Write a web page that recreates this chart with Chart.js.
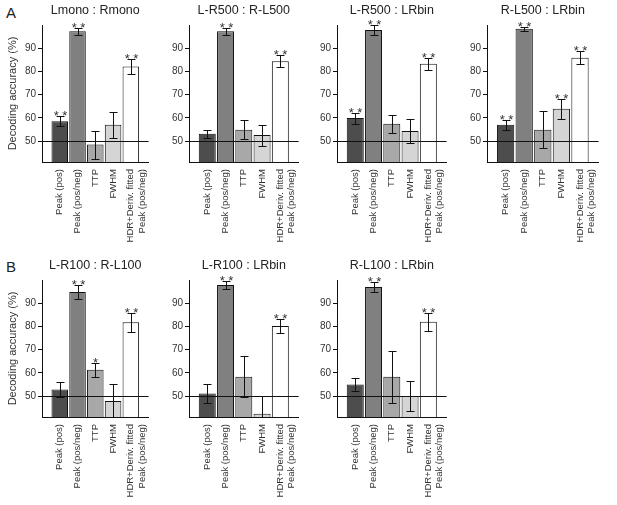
<!DOCTYPE html>
<html>
<head>
<meta charset="utf-8">
<script src="https://cdn.jsdelivr.net/npm/chart.js@4"></script>
<style>
  body { margin: 0; background: #fff; width: 617px; height: 505px; position: relative; overflow: hidden;
         font-family: "Liberation Sans", Arial, sans-serif; }
  canvas { position: absolute; }
  .tag { position: absolute; font-size: 15px; color: #222; }
</style>
</head>
<body>
<div class="tag" style="left:6px;top:4px">A</div>
<div class="tag" style="left:6px;top:258px">B</div>

<script>
// categories + shared bits
const categories = ['Peak (pos)', 'Peak (pos/neg)', 'TTP', 'FWHM', ['HDR+Deriv. fitted', 'Peak (pos/neg)']];
const yTicks = [50, 60, 70, 80, 90];
const chance = 50;

// row A
const lmonoRmono    = [58.6, 97.3, 48.5, 57.0, 82.1];
const lmonoRmonoErr = [2.0, 1.6, 6.0, 5.6, 3.3];
const lmonoRmonoSig = ['**', '**', '', '', '**'];

const lr500Rl500    = [53.2, 97.3, 54.9, 52.6, 84.4];
const lr500Rl500Err = [1.7, 1.6, 4.0, 4.5, 2.5];
const lr500Rl500Sig = ['', '**', '', '', '**'];

const lr500Bin    = [59.9, 97.9, 57.5, 54.3, 83.3];
const lr500BinErr = [2.4, 2.0, 3.8, 5.3, 2.5];
const lr500BinSig = ['**', '**', '', '', '**'];

const rl500Bin    = [57.0, 98.4, 54.9, 63.9, 85.9];
const rl500BinErr = [2.2, 0.9, 8.0, 4.2, 2.9];
const rl500BinSig = ['**', '**', '', '**', '**'];

// row B
const lr100Rl100    = [52.8, 94.8, 61.4, 47.9, 81.8];
const lr100Rl100Err = [3.4, 3.1, 3.0, 7.2, 4.2];
const lr100Rl100Sig = ['', '**', '*', '', '**'];

const lr100Bin    = [51.1, 97.9, 58.3, 42.4, 80.2];
const lr100BinErr = [4.1, 1.6, 8.8, 7.5, 3.1];
const lr100BinSig = ['', '**', '', '', '**'];

const rl100Bin    = [55.0, 97.0, 58.3, 50.0, 82.0];
const rl100BinErr = [2.7, 2.2, 11.2, 6.6, 3.8];
const rl100BinSig = ['', '**', '', '', '**'];

const panels = [
  {title: 'Lmono : Rmono',     values: lmonoRmono, err: lmonoRmonoErr, sig: lmonoRmonoSig},
  {title: 'L-R500 : R-L500',   values: lr500Rl500, err: lr500Rl500Err, sig: lr500Rl500Sig},
  {title: 'L-R500 : LRbin',    values: lr500Bin,   err: lr500BinErr,   sig: lr500BinSig},
  {title: 'R-L500 : LRbin',    values: rl500Bin,   err: rl500BinErr,   sig: rl500BinSig},
  {title: 'L-R100 : R-L100',   values: lr100Rl100, err: lr100Rl100Err, sig: lr100Rl100Sig},
  {title: 'L-R100 : LRbin',    values: lr100Bin,   err: lr100BinErr,   sig: lr100BinSig},
  {title: 'R-L100 : LRbin',    values: rl100Bin,   err: rl100BinErr,   sig: rl100BinSig}
];

// where each panel sits on the page (left, top, plot width)
const slots = [
  [0, 0, 121], [147, 0, 124], [295, 0, 124], [445, 0, 126],
  [0, 255, 121], [147, 255, 124], [295, 255, 124]
];
const barColors = ['#4d4d4d', '#808080', '#a8a8a8', '#d5d5d5', '#ffffff'];
const font = '"Liberation Sans", Arial, sans-serif';

// chance line, error bars and stars
const extras = {
  id: 'extras',
  afterDatasetsDraw(chart) {
    const {ctx, chartArea: a, scales: {y}} = chart;
    const ds = chart.data.datasets[0];
    const meta = chart.getDatasetMeta(0);
    ctx.save();
    ctx.strokeStyle = '#111';
    ctx.lineWidth = 1;
    const y50 = Math.round(y.getPixelForValue(chance)) + 0.5;
    ctx.beginPath();
    ctx.moveTo(a.left, y50);
    ctx.lineTo(a.right, y50);
    ctx.stroke();

    ctx.beginPath();
    ctx.rect(a.left, a.top - 20, a.width, a.height + 20);
    ctx.clip();
    meta.data.forEach((bar, i) => {
      const v = ds.data[i];
      if (v == null) return;
      const e = ds.err[i];
      const x = Math.round(bar.x) + 0.5;
      const top = Math.round(y.getPixelForValue(v + e)) + 0.5;
      const bot = Math.round(y.getPixelForValue(v - e)) + 0.5;
      ctx.strokeStyle = '#111';
      ctx.beginPath();
      ctx.moveTo(x, top); ctx.lineTo(x, bot);
      ctx.moveTo(x - 4, top); ctx.lineTo(x + 4, top);
      ctx.moveTo(x - 4, bot); ctx.lineTo(x + 4, bot);
      ctx.stroke();
      if (ds.sig[i]) {
        ctx.fillStyle = '#333';
        ctx.font = '13px ' + font;
        ctx.textAlign = 'center';
        ctx.textBaseline = 'alphabetic';
        ctx.fillText(ds.sig[i].split('').join(' '), x, top + 3);
      }
    });
    ctx.restore();
  }
};

panels.forEach((p, k) => {
  const [left, top, w] = slots[k];
  const cv = document.createElement('canvas');
  cv.width = 42 + w;
  cv.height = 252;
  cv.style.left = left + 'px';
  cv.style.top = top + 'px';
  document.body.appendChild(cv);

  const showYTitle = k === 0 || k === 4;
  new Chart(cv, {
    type: 'bar',
    data: {
      labels: [''].concat(categories, ['']),
      datasets: [{
        data: [null].concat(p.values, [null]),
        err: [null].concat(p.err, [null]),
        sig: [''].concat(p.sig, ['']),
        backgroundColor: ['#fff'].concat(barColors, ['#fff']),
        borderColor: '#111',
        borderWidth: 1,
        barPercentage: 0.93,
        categoryPercentage: 1
      }]
    },
    options: {
      responsive: false,
      animation: false,
      layout: {padding: 0},
      plugins: {
        legend: {display: false},
        tooltip: {enabled: false},
        title: {
          display: true,
          text: p.title,
          fullSize: false,
          color: '#222',
          font: {family: font, size: 12.5, weight: 'normal'},
          padding: {top: 3, bottom: 7}
        }
      },
      scales: {
        x: {
          type: 'category',
          offset: false,
          grid: {display: false, tickLength: 4},
          border: {display: true, color: '#111', width: 1},
          ticks: {
            autoSkip: false, minRotation: 90, maxRotation: 90, padding: 3,
            color: '#333', font: {family: font, size: 9.5}
          },
          afterFit: s => { s.height = 90; }
        },
        y: {
          min: 41,
          max: 100,
          ticks: {stepSize: 10, padding: 2, color: '#333', font: {family: font, size: 10}},
          afterBuildTicks: s => { s.ticks = yTicks.map(v => ({value: v})); },
          grid: {drawOnChartArea: false, drawTicks: true, tickLength: 4, color: '#111'},
          border: {display: true, color: '#111', width: 1},
          title: {
            display: showYTitle,
            text: 'Decoding accuracy (%)',
            color: '#333',
            font: {family: font, size: 11},
            padding: {top: 6, bottom: 0}
          },
          afterFit: s => { s.width = 42; }
        }
      }
    },
    plugins: [extras]
  });
});
</script>
</body>
</html>
